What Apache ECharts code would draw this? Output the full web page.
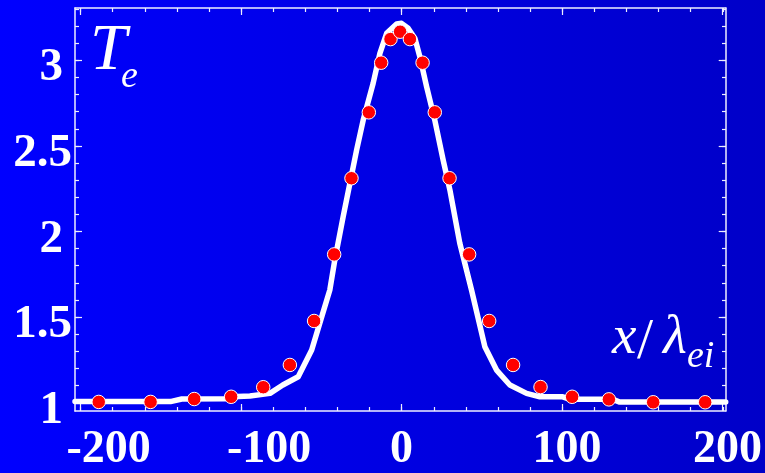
<!DOCTYPE html>
<html>
<head>
<meta charset="utf-8">
<script src="https://cdn.jsdelivr.net/npm/echarts@6/dist/echarts.min.js"></script>
<style>
html,body{margin:0;padding:0;background:#0000ff;}
#c{width:765px;height:473px;}
</style>
</head>
<body>
<div id="c"></div>
<script>
// ---- data ----
var curveX = [-203.5,-144,-137,-110,-102,-94.5,-82,-74,-64.4,-56,-51,-44.7,-41.6,-36.4,-32.2,-28,-23.9,-17.7,-13.5,-9.3,-3.1,0,4.1,8.3,11.4,15.6,20.7,25.9,30.1,36.3,43.6,51.9,59.2,67.5,77.9,86.2,100.5,104.9,131.7,136,202];
var curveT = [1.006,1.006,1.021,1.023,1.036,1.039,1.054,1.103,1.151,1.307,1.463,1.658,1.833,2.086,2.281,2.476,2.651,2.866,3.041,3.158,3.212,3.216,3.187,3.129,3.021,2.846,2.651,2.418,2.243,1.931,1.658,1.327,1.19,1.103,1.054,1.034,1.034,1.019,1.019,1.003,1.003];
var simX = [-188.7,-156.4,-129.2,-106.2,-86.2,-69.6,-54.5,-42.0,-31.2,-20.4,-12.7,-6.9,-0.9,5.2,13.1,20.7,29.9,42.1,54.6,69.5,86.6,106.3,129.2,156.8,189.2];
var simT = [1.004,1.004,1.021,1.034,1.090,1.220,1.477,1.866,2.311,2.696,2.986,3.124,3.167,3.124,2.986,2.696,2.311,1.866,1.477,1.220,1.091,1.034,1.019,1.002,1.002];
var xMajor = [-200,-100,0,100,200];
var xMinor = [-200,-180,-160,-140,-120,-100,-80,-60,-40,-20,0,20,40,60,80,100,120,140,160,180,200];
var yMajor = [1,1.5,2,2.5,3];
var yMinor = [1,1.1,1.2,1.3,1.4,1.5,1.6,1.7,1.8,1.9,2,2.1,2.2,2.3,2.4,2.5,2.6,2.7,2.8,2.9,3,3.1,3.2,3.3];
var xRange = [-203.5, 202];
var yRange = [0.951, 3.3056];

// ---- build ----
var curve = curveX.map(function(x,i){return [x, curveT[i]];});
var sim = simX.map(function(x,i){return [x, simT[i]];});
var frameColor = '#eeeeff';
var labFont = '"Liberation Serif", "Times New Roman", serif';

function xAxisCfg(grid, pos, ticks, len, showLine, showLabel){
  return {
    gridIndex: grid, type:'value', position: pos, min: xRange[0], max: xRange[1],
    axisLine:{show:showLine, onZero:false, lineStyle:{color:frameColor, width:1.5}},
    axisTick:{show:true, inside:true, length:len, customValues:ticks, lineStyle:{color:frameColor, width:1.2}},
    splitLine:{show:false},
    axisLabel: showLabel ? {
      show:true, customValues: xMajor, margin: 16,
      formatter: function(v){ return v < 0 ? '{n|' + v + '}' : (v === 0 ? '{z|0}' : '{p|' + v + '}'); },
      rich:{
        n:{color:'#fff', fontFamily:labFont, fontWeight:'bold', fontSize:46, padding:[0,0,0,56]},
        z:{color:'#fff', fontFamily:labFont, fontWeight:'bold', fontSize:46},
        p:{color:'#fff', fontFamily:labFont, fontWeight:'bold', fontSize:46, padding:[0,0,0,10]}
      }
    } : {show:false}
  };
}
function yAxisCfg(grid, pos, ticks, len, showLine, showLabel){
  return {
    gridIndex: grid, type:'value', position: pos, min: yRange[0], max: yRange[1],
    axisLine:{show:showLine, onZero:false, lineStyle:{color:frameColor, width:1.5}},
    axisTick:{show:true, inside:true, length:len, customValues:ticks, lineStyle:{color:frameColor, width:1.2}},
    splitLine:{show:false},
    axisLabel: showLabel ? {
      show:true, customValues: yMajor, margin: 3,
      formatter: function(v){ return Math.abs(v - Math.round(v)) < 1e-6 ? '{i|' + Math.round(v) + '}' : '{d|' + v + '}'; },
      rich:{
        i:{color:'#fff', fontFamily:labFont, fontWeight:'bold', fontSize:47, padding:[16,9,0,0]},
        d:{color:'#fff', fontFamily:labFont, fontWeight:'bold', fontSize:47, padding:[16,0,0,0]}
      }
    } : {show:false}
  };
}

var gridRect = {left:75, top:8, width:651, height:403};
var option = {
  animation:false,
  backgroundColor:{type:'linear', x:0, y:0, x2:1, y2:0, colorStops:[{offset:0,color:'#0000ff'},{offset:1,color:'#0000c8'}]},
  grid:[Object.assign({}, gridRect), Object.assign({}, gridRect)],
  xAxis:[
    xAxisCfg(0,'bottom',xMajor,7,true,true),
    xAxisCfg(0,'top',xMajor,7,true,false),
    xAxisCfg(1,'bottom',xMinor,4,false,false),
    xAxisCfg(1,'top',xMinor,4,false,false)
  ],
  yAxis:[
    yAxisCfg(0,'left',yMajor,7,true,true),
    yAxisCfg(0,'right',yMajor,7,true,false),
    yAxisCfg(1,'left',yMinor,4,false,false),
    yAxisCfg(1,'right',yMinor,4,false,false)
  ],
  graphic:[
    {type:'text', x:90, y:52, style:{text:'T', font:'italic 66px "Liberation Serif"', fill:'#fff', textAlign:'left', textVerticalAlign:'middle'}},
    {type:'text', x:121, y:77, style:{text:'e', font:'italic 38px "Liberation Serif"', fill:'#fff', textAlign:'left', textVerticalAlign:'middle'}},
    {type:'text', x:612, y:339, style:{text:'x', font:'italic 55px "Liberation Serif"', fill:'#fff', textAlign:'left', textVerticalAlign:'middle'}},
    {type:'text', x:637, y:343, style:{text:'/', font:'58px "Liberation Serif"', fill:'#fff', textAlign:'left', textVerticalAlign:'middle'}},
    {type:'text', x:663, y:339, style:{text:'\u03bb', font:'italic 55px "Liberation Serif"', fill:'#fff', textAlign:'left', textVerticalAlign:'middle'}},
    {type:'text', x:687, y:357, style:{text:'ei', font:'italic 38px "Liberation Serif"', fill:'#fff', textAlign:'left', textVerticalAlign:'middle'}}
  ],
  series:[
    {type:'line', xAxisIndex:0, yAxisIndex:0, data:curve, showSymbol:false, symbol:'none',
     lineStyle:{color:'#ffffff', width:5.5, join:'round', cap:'round'}, z:2},
    {type:'scatter', xAxisIndex:0, yAxisIndex:0, data:sim, symbol:'circle', symbolSize:13.5,
     itemStyle:{color:'#ff0000', borderColor:'#ffffff', borderWidth:1, opacity:1}, z:3}
  ]
};
var chart = echarts.init(document.getElementById('c'), null, {renderer:'canvas'});
chart.setOption(option);
</script>
</body>
</html>
